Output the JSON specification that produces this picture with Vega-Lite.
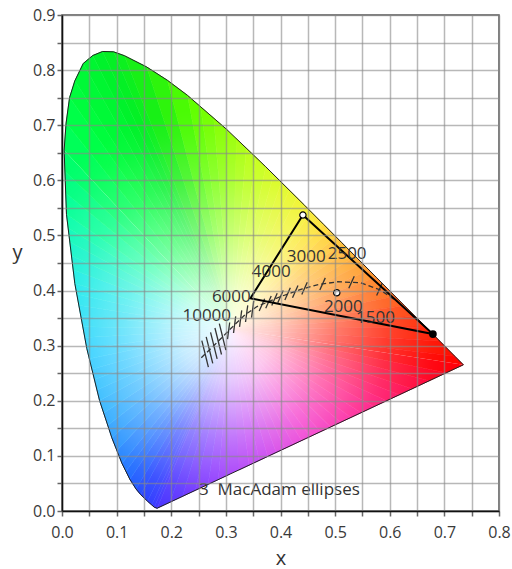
{
  "$schema": "https://vega.github.io/schema/vega-lite/v6.json",
  "width": 437,
  "height": 496,
  "autosize": "none",
  "padding": {"left": 62, "top": 15, "right": 13, "bottom": 58},
  "background": "white",
  "config": {
    "view": {"stroke": "#555", "strokeWidth": 1.5},
    "font": "Open Sans"
  },
  "datasets": {
    "fan": [
      {"t":0.5,"x":[0.31,0.1741,0.1689],"y":[0.33,0.005,0.0069]},
      {"t":1.5,"x":[0.31,0.1689,0.1644],"y":[0.33,0.0069,0.0109]},
      {"t":2.5,"x":[0.31,0.1644,0.1566],"y":[0.33,0.0109,0.0177]},
      {"t":3.5,"x":[0.31,0.1566,0.144],"y":[0.33,0.0177,0.0297]},
      {"t":4.5,"x":[0.31,0.144,0.1355],"y":[0.33,0.0297,0.0399]},
      {"t":5.5,"x":[0.31,0.1355,0.1241],"y":[0.33,0.0399,0.0578]},
      {"t":6.25,"x":[0.31,0.1241,0.1169],"y":[0.33,0.0578,0.0723]},
      {"t":6.75,"x":[0.31,0.1169,0.1096],"y":[0.33,0.0723,0.0868]},
      {"t":7.25,"x":[0.31,0.1096,0.1005],"y":[0.33,0.0868,0.1098]},
      {"t":7.75,"x":[0.31,0.1005,0.0913],"y":[0.33,0.1098,0.1327]},
      {"t":8.17,"x":[0.31,0.0913,0.0838],"y":[0.33,0.1327,0.1554]},
      {"t":8.5,"x":[0.31,0.0838,0.0762],"y":[0.33,0.1554,0.178]},
      {"t":8.83,"x":[0.31,0.0762,0.0687],"y":[0.33,0.178,0.2007]},
      {"t":9.1,"x":[0.31,0.0687,0.064],"y":[0.33,0.2007,0.2196]},
      {"t":9.3,"x":[0.31,0.064,0.0594],"y":[0.33,0.2196,0.2384]},
      {"t":9.5,"x":[0.31,0.0594,0.0547],"y":[0.33,0.2384,0.2573]},
      {"t":9.7,"x":[0.31,0.0547,0.05],"y":[0.33,0.2573,0.2761]},
      {"t":9.9,"x":[0.31,0.05,0.0454],"y":[0.33,0.2761,0.295]},
      {"t":10.08,"x":[0.31,0.0454,0.0418],"y":[0.33,0.295,0.3146]},
      {"t":10.25,"x":[0.31,0.0418,0.0381],"y":[0.33,0.3146,0.3342]},
      {"t":10.42,"x":[0.31,0.0381,0.0345],"y":[0.33,0.3342,0.3539]},
      {"t":10.58,"x":[0.31,0.0345,0.0308],"y":[0.33,0.3539,0.3735]},
      {"t":10.75,"x":[0.31,0.0308,0.0272],"y":[0.33,0.3735,0.3931]},
      {"t":10.92,"x":[0.31,0.0272,0.0235],"y":[0.33,0.3931,0.4127]},
      {"t":11.1,"x":[0.31,0.0235,0.0204],"y":[0.33,0.4127,0.4378]},
      {"t":11.3,"x":[0.31,0.0204,0.0174],"y":[0.33,0.4378,0.463]},
      {"t":11.5,"x":[0.31,0.0174,0.0143],"y":[0.33,0.463,0.4881]},
      {"t":11.7,"x":[0.31,0.0143,0.0113],"y":[0.33,0.4881,0.5133]},
      {"t":11.9,"x":[0.31,0.0113,0.0082],"y":[0.33,0.5133,0.5384]},
      {"t":12.17,"x":[0.31,0.0082,0.0068],"y":[0.33,0.5384,0.5772]},
      {"t":12.5,"x":[0.31,0.0068,0.0053],"y":[0.33,0.5772,0.616]},
      {"t":12.83,"x":[0.31,0.0053,0.0039],"y":[0.33,0.616,0.6548]},
      {"t":13.25,"x":[0.31,0.0039,0.0075],"y":[0.33,0.6548,0.704]},
      {"t":13.75,"x":[0.31,0.0075,0.0139],"y":[0.33,0.704,0.7502]},
      {"t":14.25,"x":[0.31,0.0139,0.0235],"y":[0.33,0.7502,0.7805]},
      {"t":14.75,"x":[0.31,0.0235,0.0389],"y":[0.33,0.7805,0.812]},
      {"t":15.25,"x":[0.31,0.0389,0.0563],"y":[0.33,0.812,0.8265]},
      {"t":15.75,"x":[0.31,0.0563,0.0743],"y":[0.33,0.8265,0.8338]},
      {"t":16.25,"x":[0.31,0.0743,0.0944],"y":[0.33,0.8338,0.8332]},
      {"t":16.75,"x":[0.31,0.0944,0.1142],"y":[0.33,0.8332,0.8262]},
      {"t":17.5,"x":[0.31,0.1142,0.1547],"y":[0.33,0.8262,0.8059]},
      {"t":18.25,"x":[0.31,0.1547,0.1929],"y":[0.33,0.8059,0.7816]},
      {"t":18.75,"x":[0.31,0.1929,0.2296],"y":[0.33,0.7816,0.7543]},
      {"t":19.17,"x":[0.31,0.2296,0.2536],"y":[0.33,0.7543,0.7336]},
      {"t":19.5,"x":[0.31,0.2536,0.2776],"y":[0.33,0.7336,0.713]},
      {"t":19.83,"x":[0.31,0.2776,0.3016],"y":[0.33,0.713,0.6923]},
      {"t":20.125,"x":[0.31,0.3016,0.3195],"y":[0.33,0.6923,0.6754]},
      {"t":20.375,"x":[0.31,0.3195,0.3374],"y":[0.33,0.6754,0.6584]},
      {"t":20.625,"x":[0.31,0.3374,0.3552],"y":[0.33,0.6584,0.6415]},
      {"t":20.875,"x":[0.31,0.3552,0.3731],"y":[0.33,0.6415,0.6245]},
      {"t":21.1,"x":[0.31,0.3731,0.3873],"y":[0.33,0.6245,0.6105]},
      {"t":21.3,"x":[0.31,0.3873,0.4015],"y":[0.33,0.6105,0.5966]},
      {"t":21.5,"x":[0.31,0.4015,0.4157],"y":[0.33,0.5966,0.5826]},
      {"t":21.7,"x":[0.31,0.4157,0.4299],"y":[0.33,0.5826,0.5687]},
      {"t":21.9,"x":[0.31,0.4299,0.4441],"y":[0.33,0.5687,0.5547]},
      {"t":22.17,"x":[0.31,0.4441,0.4557],"y":[0.33,0.5547,0.5432]},
      {"t":22.5,"x":[0.31,0.4557,0.4672],"y":[0.33,0.5432,0.5317]},
      {"t":22.83,"x":[0.31,0.4672,0.4788],"y":[0.33,0.5317,0.5202]},
      {"t":23.17,"x":[0.31,0.4788,0.49],"y":[0.33,0.5202,0.509]},
      {"t":23.5,"x":[0.31,0.49,0.5013],"y":[0.33,0.509,0.4978]},
      {"t":23.83,"x":[0.31,0.5013,0.5125],"y":[0.33,0.4978,0.4866]},
      {"t":24.1,"x":[0.31,0.5125,0.525],"y":[0.33,0.4866,0.4741]},
      {"t":24.3,"x":[0.31,0.525,0.5376],"y":[0.33,0.4741,0.4616]},
      {"t":24.5,"x":[0.31,0.5376,0.5501],"y":[0.33,0.4616,0.4492]},
      {"t":24.7,"x":[0.31,0.5501,0.5627],"y":[0.33,0.4492,0.4367]},
      {"t":24.9,"x":[0.31,0.5627,0.5752],"y":[0.33,0.4367,0.4242]},
      {"t":25.17,"x":[0.31,0.5752,0.5925],"y":[0.33,0.4242,0.407]},
      {"t":25.5,"x":[0.31,0.5925,0.6097],"y":[0.33,0.407,0.3897]},
      {"t":25.83,"x":[0.31,0.6097,0.627],"y":[0.33,0.3897,0.3725]},
      {"t":26.25,"x":[0.31,0.627,0.6464],"y":[0.33,0.3725,0.3533]},
      {"t":26.75,"x":[0.31,0.6464,0.6658],"y":[0.33,0.3533,0.334]},
      {"t":27.5,"x":[0.31,0.6658,0.6915],"y":[0.33,0.334,0.3083]},
      {"t":28.5,"x":[0.31,0.6915,0.719],"y":[0.33,0.3083,0.2809]},
      {"t":29.5,"x":[0.31,0.719,0.7347],"y":[0.33,0.2809,0.2653]},
      {"t":30.17,"x":[0.31,0.7347,0.7036],"y":[0.33,0.2653,0.2508]},
      {"t":30.5,"x":[0.31,0.7036,0.6724],"y":[0.33,0.2508,0.2364]},
      {"t":30.83,"x":[0.31,0.6724,0.6413],"y":[0.33,0.2364,0.2219]},
      {"t":31.125,"x":[0.31,0.6413,0.6179],"y":[0.33,0.2219,0.2111]},
      {"t":31.375,"x":[0.31,0.6179,0.5946],"y":[0.33,0.2111,0.2002]},
      {"t":31.625,"x":[0.31,0.5946,0.5712],"y":[0.33,0.2002,0.1894]},
      {"t":31.875,"x":[0.31,0.5712,0.5478],"y":[0.33,0.1894,0.1785]},
      {"t":32.1,"x":[0.31,0.5478,0.5291],"y":[0.33,0.1785,0.1698]},
      {"t":32.3,"x":[0.31,0.5291,0.5104],"y":[0.33,0.1698,0.1612]},
      {"t":32.5,"x":[0.31,0.5104,0.4918],"y":[0.33,0.1612,0.1525]},
      {"t":32.7,"x":[0.31,0.4918,0.4731],"y":[0.33,0.1525,0.1439]},
      {"t":32.9,"x":[0.31,0.4731,0.4544],"y":[0.33,0.1439,0.1352]},
      {"t":33.08,"x":[0.31,0.4544,0.4388],"y":[0.33,0.1352,0.128]},
      {"t":33.25,"x":[0.31,0.4388,0.4233],"y":[0.33,0.128,0.1207]},
      {"t":33.42,"x":[0.31,0.4233,0.4077],"y":[0.33,0.1207,0.1135]},
      {"t":33.58,"x":[0.31,0.4077,0.3921],"y":[0.33,0.1135,0.1063]},
      {"t":33.75,"x":[0.31,0.3921,0.3766],"y":[0.33,0.1063,0.099]},
      {"t":33.92,"x":[0.31,0.3766,0.361],"y":[0.33,0.099,0.0918]},
      {"t":34.1,"x":[0.31,0.361,0.3423],"y":[0.33,0.0918,0.0831]},
      {"t":34.3,"x":[0.31,0.3423,0.3236],"y":[0.33,0.0831,0.0744]},
      {"t":34.5,"x":[0.31,0.3236,0.3049],"y":[0.33,0.0744,0.0658]},
      {"t":34.7,"x":[0.31,0.3049,0.2862],"y":[0.33,0.0658,0.0571]},
      {"t":34.9,"x":[0.31,0.2862,0.2675],"y":[0.33,0.0571,0.0484]},
      {"t":35.125,"x":[0.31,0.2675,0.2442],"y":[0.33,0.0484,0.0376]},
      {"t":35.375,"x":[0.31,0.2442,0.2208],"y":[0.33,0.0376,0.0267]},
      {"t":35.625,"x":[0.31,0.2208,0.1975],"y":[0.33,0.0267,0.0159]},
      {"t":35.875,"x":[0.31,0.1975,0.1741],"y":[0.33,0.0159,0.005]}
    ],
    "locus": [
      {"k":0,"x":0.1741,"y":0.005},{"k":1,"x":0.1689,"y":0.0069},{"k":2,"x":0.1644,"y":0.0109},{"k":3,"x":0.1566,"y":0.0177},
      {"k":4,"x":0.144,"y":0.0297},{"k":5,"x":0.1355,"y":0.0399},{"k":6,"x":0.1241,"y":0.0578},{"k":7,"x":0.1096,"y":0.0868},
      {"k":8,"x":0.0913,"y":0.1327},{"k":9,"x":0.0687,"y":0.2007},{"k":10,"x":0.0454,"y":0.295},{"k":11,"x":0.0235,"y":0.4127},
      {"k":12,"x":0.0082,"y":0.5384},{"k":13,"x":0.0039,"y":0.6548},{"k":14,"x":0.0075,"y":0.704},{"k":15,"x":0.0139,"y":0.7502},
      {"k":16,"x":0.0235,"y":0.7805},{"k":17,"x":0.0389,"y":0.812},{"k":18,"x":0.0563,"y":0.8265},{"k":19,"x":0.0743,"y":0.8338},
      {"k":20,"x":0.0944,"y":0.8332},{"k":21,"x":0.1142,"y":0.8262},{"k":22,"x":0.1547,"y":0.8059},{"k":23,"x":0.1929,"y":0.7816},
      {"k":24,"x":0.2296,"y":0.7543},{"k":25,"x":0.3016,"y":0.6923},{"k":26,"x":0.3731,"y":0.6245},{"k":27,"x":0.4441,"y":0.5547},
      {"k":28,"x":0.4788,"y":0.5202},{"k":29,"x":0.5125,"y":0.4866},{"k":30,"x":0.5752,"y":0.4242},{"k":31,"x":0.627,"y":0.3725},
      {"k":32,"x":0.6658,"y":0.334},{"k":33,"x":0.6915,"y":0.3083},{"k":34,"x":0.719,"y":0.2809},{"k":35,"x":0.7347,"y":0.2653},
      {"k":36,"x":0.1741,"y":0.005}
    ],
    "curve": [
      {"k":0,"x":0.255,"y":0.278},{"k":1,"x":0.28,"y":0.302},{"k":2,"x":0.31,"y":0.332},{"k":3,"x":0.335,"y":0.356},
      {"k":4,"x":0.357,"y":0.371},{"k":5,"x":0.4,"y":0.389},{"k":6,"x":0.44,"y":0.403},{"k":7,"x":0.47,"y":0.411},
      {"k":8,"x":0.505,"y":0.416},{"k":9,"x":0.547,"y":0.414},{"k":10,"x":0.583,"y":0.401},{"k":11,"x":0.614,"y":0.38}
    ],
    "ticks": [
      {"x":0.256,"y":0.309,"x2":0.268,"y2":0.261},
      {"x":0.264,"y":0.316,"x2":0.276,"y2":0.268},
      {"x":0.272,"y":0.324,"x2":0.284,"y2":0.276},
      {"x":0.28,"y":0.332,"x2":0.292,"y2":0.284},
      {"x":0.288,"y":0.34,"x2":0.3,"y2":0.292},
      {"x":0.303,"y":0.312,"x2":0.307,"y2":0.342},
      {"x":0.314,"y":0.323,"x2":0.318,"y2":0.353},
      {"x":0.325,"y":0.334,"x2":0.329,"y2":0.364},
      {"x":0.336,"y":0.343,"x2":0.34,"y2":0.373},
      {"x":0.347,"y":0.351,"x2":0.351,"y2":0.381},
      {"x":0.361,"y":0.363,"x2":0.371,"y2":0.385},
      {"x":0.373,"y":0.368,"x2":0.383,"y2":0.39},
      {"x":0.384,"y":0.373,"x2":0.394,"y2":0.395},
      {"x":0.395,"y":0.378,"x2":0.405,"y2":0.4},
      {"x":0.408,"y":0.383,"x2":0.418,"y2":0.405},
      {"x":0.422,"y":0.387,"x2":0.432,"y2":0.409},
      {"x":0.439,"y":0.393,"x2":0.449,"y2":0.415},
      {"x":0.472,"y":0.401,"x2":0.482,"y2":0.423},
      {"x":0.525,"y":0.404,"x2":0.535,"y2":0.426},
      {"x":0.576,"y":0.391,"x2":0.586,"y2":0.413}
    ],
    "tri": [
      {"k":0,"x":0.441,"y":0.537},{"k":1,"x":0.679,"y":0.321},{"k":2,"x":0.345,"y":0.386},{"k":3,"x":0.441,"y":0.537}
    ],
    "open": [
      {"x":0.441,"y":0.537},{"x":0.503,"y":0.396}
    ],
    "filled": [
      {"x":0.679,"y":0.321}
    ],
    "labels": [
      {"x":0.265,"y":0.354,"label":"10000"},
      {"x":0.31,"y":0.388,"label":"6000"},
      {"x":0.383,"y":0.434,"label":"4000"},
      {"x":0.447,"y":0.461,"label":"3000"},
      {"x":0.522,"y":0.466,"label":"2500"},
      {"x":0.515,"y":0.37,"label":"2000"},
      {"x":0.574,"y":0.35,"label":"1500"},
      {"x":0.398,"y":0.038,"label":"3\u00a0\u00a0MacAdam ellipses"}
    ]
  },
  "encoding": {
    "x": {
      "field": "x", "type": "quantitative",
      "scale": {"domain": [0, 0.8], "nice": false, "zero": false},
      "axis": {
        "values": [0,0.05,0.1,0.15,0.2,0.25,0.3,0.35,0.4,0.45,0.5,0.55,0.6,0.65,0.7,0.75,0.8],
        "labelExpr": "abs(datum.value*10 - round(datum.value*10)) < 0.001 ? format(datum.value, '.1f') : ''",
        "title": "x",
        "grid": true, "gridColor": "#888", "gridOpacity": 0.6, "gridWidth": 1.5,
        "tickSize": 5, "tickColor": "#666", "tickWidth": 1.5,
        "domainColor": "#111", "domainWidth": 1.5,
        "labelFont": "Open Sans", "labelFontSize": 16, "labelColor": "#3a3a3a", "labelPadding": 8,
        "labelFlush": false, "labelOverlap": false,
        "titleFont": "Open Sans", "titleFontSize": 20, "titleFontWeight": "normal", "titleColor": "#333",
        "titleY": 47, "titleBaseline": "middle",
        "zindex": 1
      }
    },
    "y": {
      "field": "y", "type": "quantitative",
      "scale": {"domain": [0, 0.9], "nice": false, "zero": false},
      "axis": {
        "values": [0,0.05,0.1,0.15,0.2,0.25,0.3,0.35,0.4,0.45,0.5,0.55,0.6,0.65,0.7,0.75,0.8,0.85,0.9],
        "labelExpr": "abs(datum.value*10 - round(datum.value*10)) < 0.001 ? format(datum.value, '.1f') : ''",
        "title": "y",
        "grid": true, "gridColor": "#888", "gridOpacity": 0.6, "gridWidth": 1.5,
        "tickSize": 5, "tickColor": "#666", "tickWidth": 1.5,
        "domainColor": "#111", "domainWidth": 1.5,
        "labelFont": "Open Sans", "labelFontSize": 16, "labelColor": "#3a3a3a", "labelPadding": 2,
        "labelFlush": false, "labelOverlap": false,
        "titleFont": "Open Sans", "titleFontSize": 20, "titleFontWeight": "normal", "titleColor": "#333",
        "titleAngle": 0, "titleX": -45, "titleY": 237, "titleAlign": "center", "titleBaseline": "middle",
        "zindex": 1
      }
    }
  },
  "layer": [
    {
      "data": {"name": "fan"},
      "transform": [{"flatten": ["x", "y"]}],
      "mark": {"type": "line", "strokeWidth": 0.8},
      "encoding": {
        "detail": {"field": "t", "type": "nominal"},
        "fill": {
          "field": "t", "type": "quantitative", "legend": null,
          "scale": {
            "type": "linear", "interpolate": "rgb",
            "domain": [0,4,6,7,8,9,10,11,12,13,14,16,18,19,20,21,22,23,24,25,26,27,30,31,32,33,34,35,36],
            "range": ["#3020ff","#1030ff","#0050ff","#0068ff","#0088ff","#00a8ff","#00c8ff","#00e8e8","#00ffa0","#00ff60","#00ff40","#00f028","#20f010","#58ff00","#90ff00","#c8ff00","#f0f000","#ffd800","#ffb000","#ff7800","#ff4000","#ff2000","#ff0000","#ff0040","#ff0080","#f000c0","#b000f0","#7010ff","#3020ff"]
          }
        },
        "stroke": {
          "field": "t", "type": "quantitative", "legend": null,
          "scale": {
            "type": "linear", "interpolate": "rgb",
            "domain": [0,4,6,7,8,9,10,11,12,13,14,16,18,19,20,21,22,23,24,25,26,27,30,31,32,33,34,35,36],
            "range": ["#3020ff","#1030ff","#0050ff","#0068ff","#0088ff","#00a8ff","#00c8ff","#00e8e8","#00ffa0","#00ff60","#00ff40","#00f028","#20f010","#58ff00","#90ff00","#c8ff00","#f0f000","#ffd800","#ffb000","#ff7800","#ff4000","#ff2000","#ff0000","#ff0040","#ff0080","#f000c0","#b000f0","#7010ff","#3020ff"]
          }
        }
      }
    },
    {
      "data": {"name": "locus"},
      "mark": {
        "type": "line", "stroke": "#222", "strokeWidth": 1,
        "fill": {
          "gradient": "radial",
          "x1": 0.419, "y1": 0.62, "r1": 0,
          "x2": 0.419, "y2": 0.62, "r2": 0.5,
          "stops": [
            {"offset": 0, "color": "rgba(255,255,255,0.95)"},
            {"offset": 0.2, "color": "rgba(255,255,255,0.78)"},
            {"offset": 0.45, "color": "rgba(255,255,255,0.45)"},
            {"offset": 0.7, "color": "rgba(255,255,255,0.18)"},
            {"offset": 0.9, "color": "rgba(255,255,255,0.04)"},
            {"offset": 1, "color": "rgba(255,255,255,0)"}
          ]
        }
      },
      "encoding": {"order": {"field": "k", "type": "quantitative"}}
    },
    {
      "data": {"name": "curve"},
      "mark": {"type": "line", "stroke": "#333", "strokeWidth": 1.3, "strokeDash": [5, 3]},
      "encoding": {"order": {"field": "k", "type": "quantitative"}}
    },
    {
      "data": {"name": "ticks"},
      "mark": {"type": "rule", "stroke": "#333", "strokeWidth": 1.3},
      "encoding": {"x2": {"field": "x2"}, "y2": {"field": "y2"}}
    },
    {
      "data": {"name": "tri"},
      "mark": {"type": "line", "stroke": "#000", "strokeWidth": 2},
      "encoding": {"order": {"field": "k", "type": "quantitative"}}
    },
    {
      "data": {"name": "open"},
      "mark": {"type": "point", "shape": "circle", "filled": true, "fill": "white", "stroke": "#000", "strokeWidth": 1.2, "size": 40, "opacity": 1}
    },
    {
      "data": {"name": "filled"},
      "mark": {"type": "point", "shape": "circle", "filled": true, "color": "#000", "size": 60, "opacity": 1}
    },
    {
      "data": {"name": "labels"},
      "mark": {"type": "text", "fontSize": 17, "font": "Open Sans", "fill": "#333", "align": "center", "baseline": "middle"},
      "encoding": {"text": {"field": "label"}}
    }
  ]
}
